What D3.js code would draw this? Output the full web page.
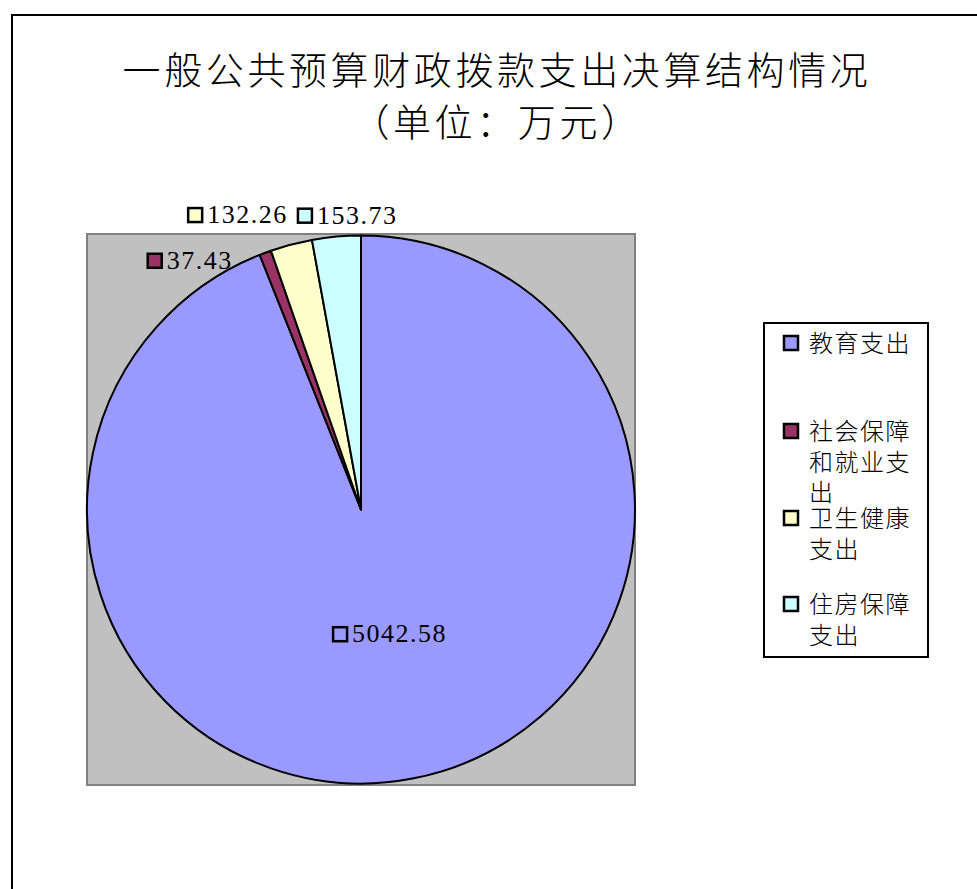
<!DOCTYPE html>
<html>
<head>
<meta charset="utf-8">
<script src="https://cdn.jsdelivr.net/npm/d3@7"></script>
<style>
  body { margin: 0; background: #fff; }
  svg { display: block; }
</style>
</head>
<body>
<div id="chart"></div>
<script>
// chart data
const categories = ["教育支出", "社会保障和就业支出", "卫生健康支出", "住房保障支出"];
const values = [5042.58, 37.43, 132.26, 153.73];
const colors = ["#9999FF", "#993366", "#FFFFCC", "#CCFFFF"];
// legend text is wrapped like the original
const legendLines = [["教育支出"], ["社会保障", "和就业支", "出"], ["卫生健康", "支出"], ["住房保障", "支出"]];
const titleLines = ["一般公共预算财政拨款支出决算结构情况", "（单位：万元）"];

const width = 977, height = 889;
const cjk = "'Noto Sans CJK SC', 'Noto Sans', sans-serif";
const serif = "'Liberation Serif', 'DejaVu Serif', serif";

const svg = d3.select("#chart").append("svg")
    .attr("width", width)
    .attr("height", height);

// chart frame (right and bottom run off the page)
svg.append("rect")
    .attr("x", 12).attr("y", 15)
    .attr("width", 1000).attr("height", 900)
    .attr("fill", "#fff")
    .attr("stroke", "#000")
    .attr("stroke-width", 2);

// title
svg.append("g").selectAll("text")
    .data(titleLines)
    .join("text")
    .attr("x", 497)
    .attr("y", (d, i) => 84 + i * 52)
    .attr("text-anchor", "middle")
    .attr("font-family", cjk)
    .attr("font-size", 38)
    .attr("font-weight", 300)
    .attr("letter-spacing", 3.6)
    .attr("fill", "#000")
    .text(d => d);

// plot area
const plot = { x: 87, y: 234, w: 548, h: 551 };
svg.append("rect")
    .attr("x", plot.x).attr("y", plot.y)
    .attr("width", plot.w).attr("height", plot.h)
    .attr("fill", "#C0C0C0")
    .attr("stroke", "#808080")
    .attr("stroke-width", 2);

const cx = plot.x + plot.w / 2, cy = plot.y + plot.h / 2;
const radius = 274;

const pie = d3.pie().sort(null).value(d => d.value);
const rows = categories.map((c, i) => ({ name: c, value: values[i], color: colors[i] }));
const arcs = pie(rows);

const arc = d3.arc().innerRadius(0).outerRadius(radius);

const g = svg.append("g").attr("transform", `translate(${cx},${cy})`);

g.selectAll("path")
    .data(arcs)
    .join("path")
    .attr("d", arc)
    .attr("fill", d => d.data.color)
    .attr("stroke", "#000")
    .attr("stroke-width", 2)
    .attr("stroke-linejoin", "round");

// data labels: big slice sits inside, small ones outside the rim
const innerLabel = d3.arc().innerRadius(128).outerRadius(128);
const outerLabel = d3.arc().innerRadius(290).outerRadius(290);
// nudges so the outside labels do not collide (like the original)
const labelNudge = [[-53, 7], [-113, 31], [-100, -6], [-38, 3]];

const labels = g.selectAll("g.label")
    .data(arcs)
    .join("g")
    .attr("class", "label")
    .attr("transform", (d, i) => {
        const p = i === 0 ? innerLabel.centroid(d) : outerLabel.centroid(d);
        return `translate(${p[0] + labelNudge[i][0]},${p[1] + labelNudge[i][1]})`;
    });

labels.append("rect")
    .attr("x", 1).attr("y", -15)
    .attr("width", 14).attr("height", 14)
    .attr("fill", d => d.data.color)
    .attr("stroke", "#000")
    .attr("stroke-width", 2.5);

labels.append("text")
    .attr("x", 20)
    .attr("y", 0)
    .attr("font-family", serif)
    .attr("font-size", 26)
    .attr("letter-spacing", 1.5)
    .attr("fill", "#000")
    .text(d => d3.format(".2f")(d.data.value));

// legend
const legend = svg.append("g");
legend.append("rect")
    .attr("x", 764).attr("y", 323)
    .attr("width", 164).attr("height", 334)
    .attr("fill", "#fff")
    .attr("stroke", "#000")
    .attr("stroke-width", 2);

const legendY = [343, 431, 518, 604];
const lineGap = [0, 31, 30];

const items = legend.selectAll("g.item")
    .data(rows)
    .join("g")
    .attr("class", "item")
    .attr("transform", (d, i) => `translate(784,${legendY[i]})`);

items.append("rect")
    .attr("x", 0).attr("y", -7)
    .attr("width", 14).attr("height", 14)
    .attr("fill", d => d.color)
    .attr("stroke", "#000")
    .attr("stroke-width", 2.5);

items.each(function (d, i) {
    d3.select(this).selectAll("text")
        .data(legendLines[i])
        .join("text")
        .attr("x", 25)
        .attr("y", (t, j) => 9 + d3.sum(lineGap.slice(0, j + 1)))
        .attr("font-family", cjk)
        .attr("font-size", 24)
        .attr("font-weight", 300)
        .attr("letter-spacing", 1.5)
        .attr("fill", "#000")
        .text(t => t);
});
</script>
</body>
</html>
